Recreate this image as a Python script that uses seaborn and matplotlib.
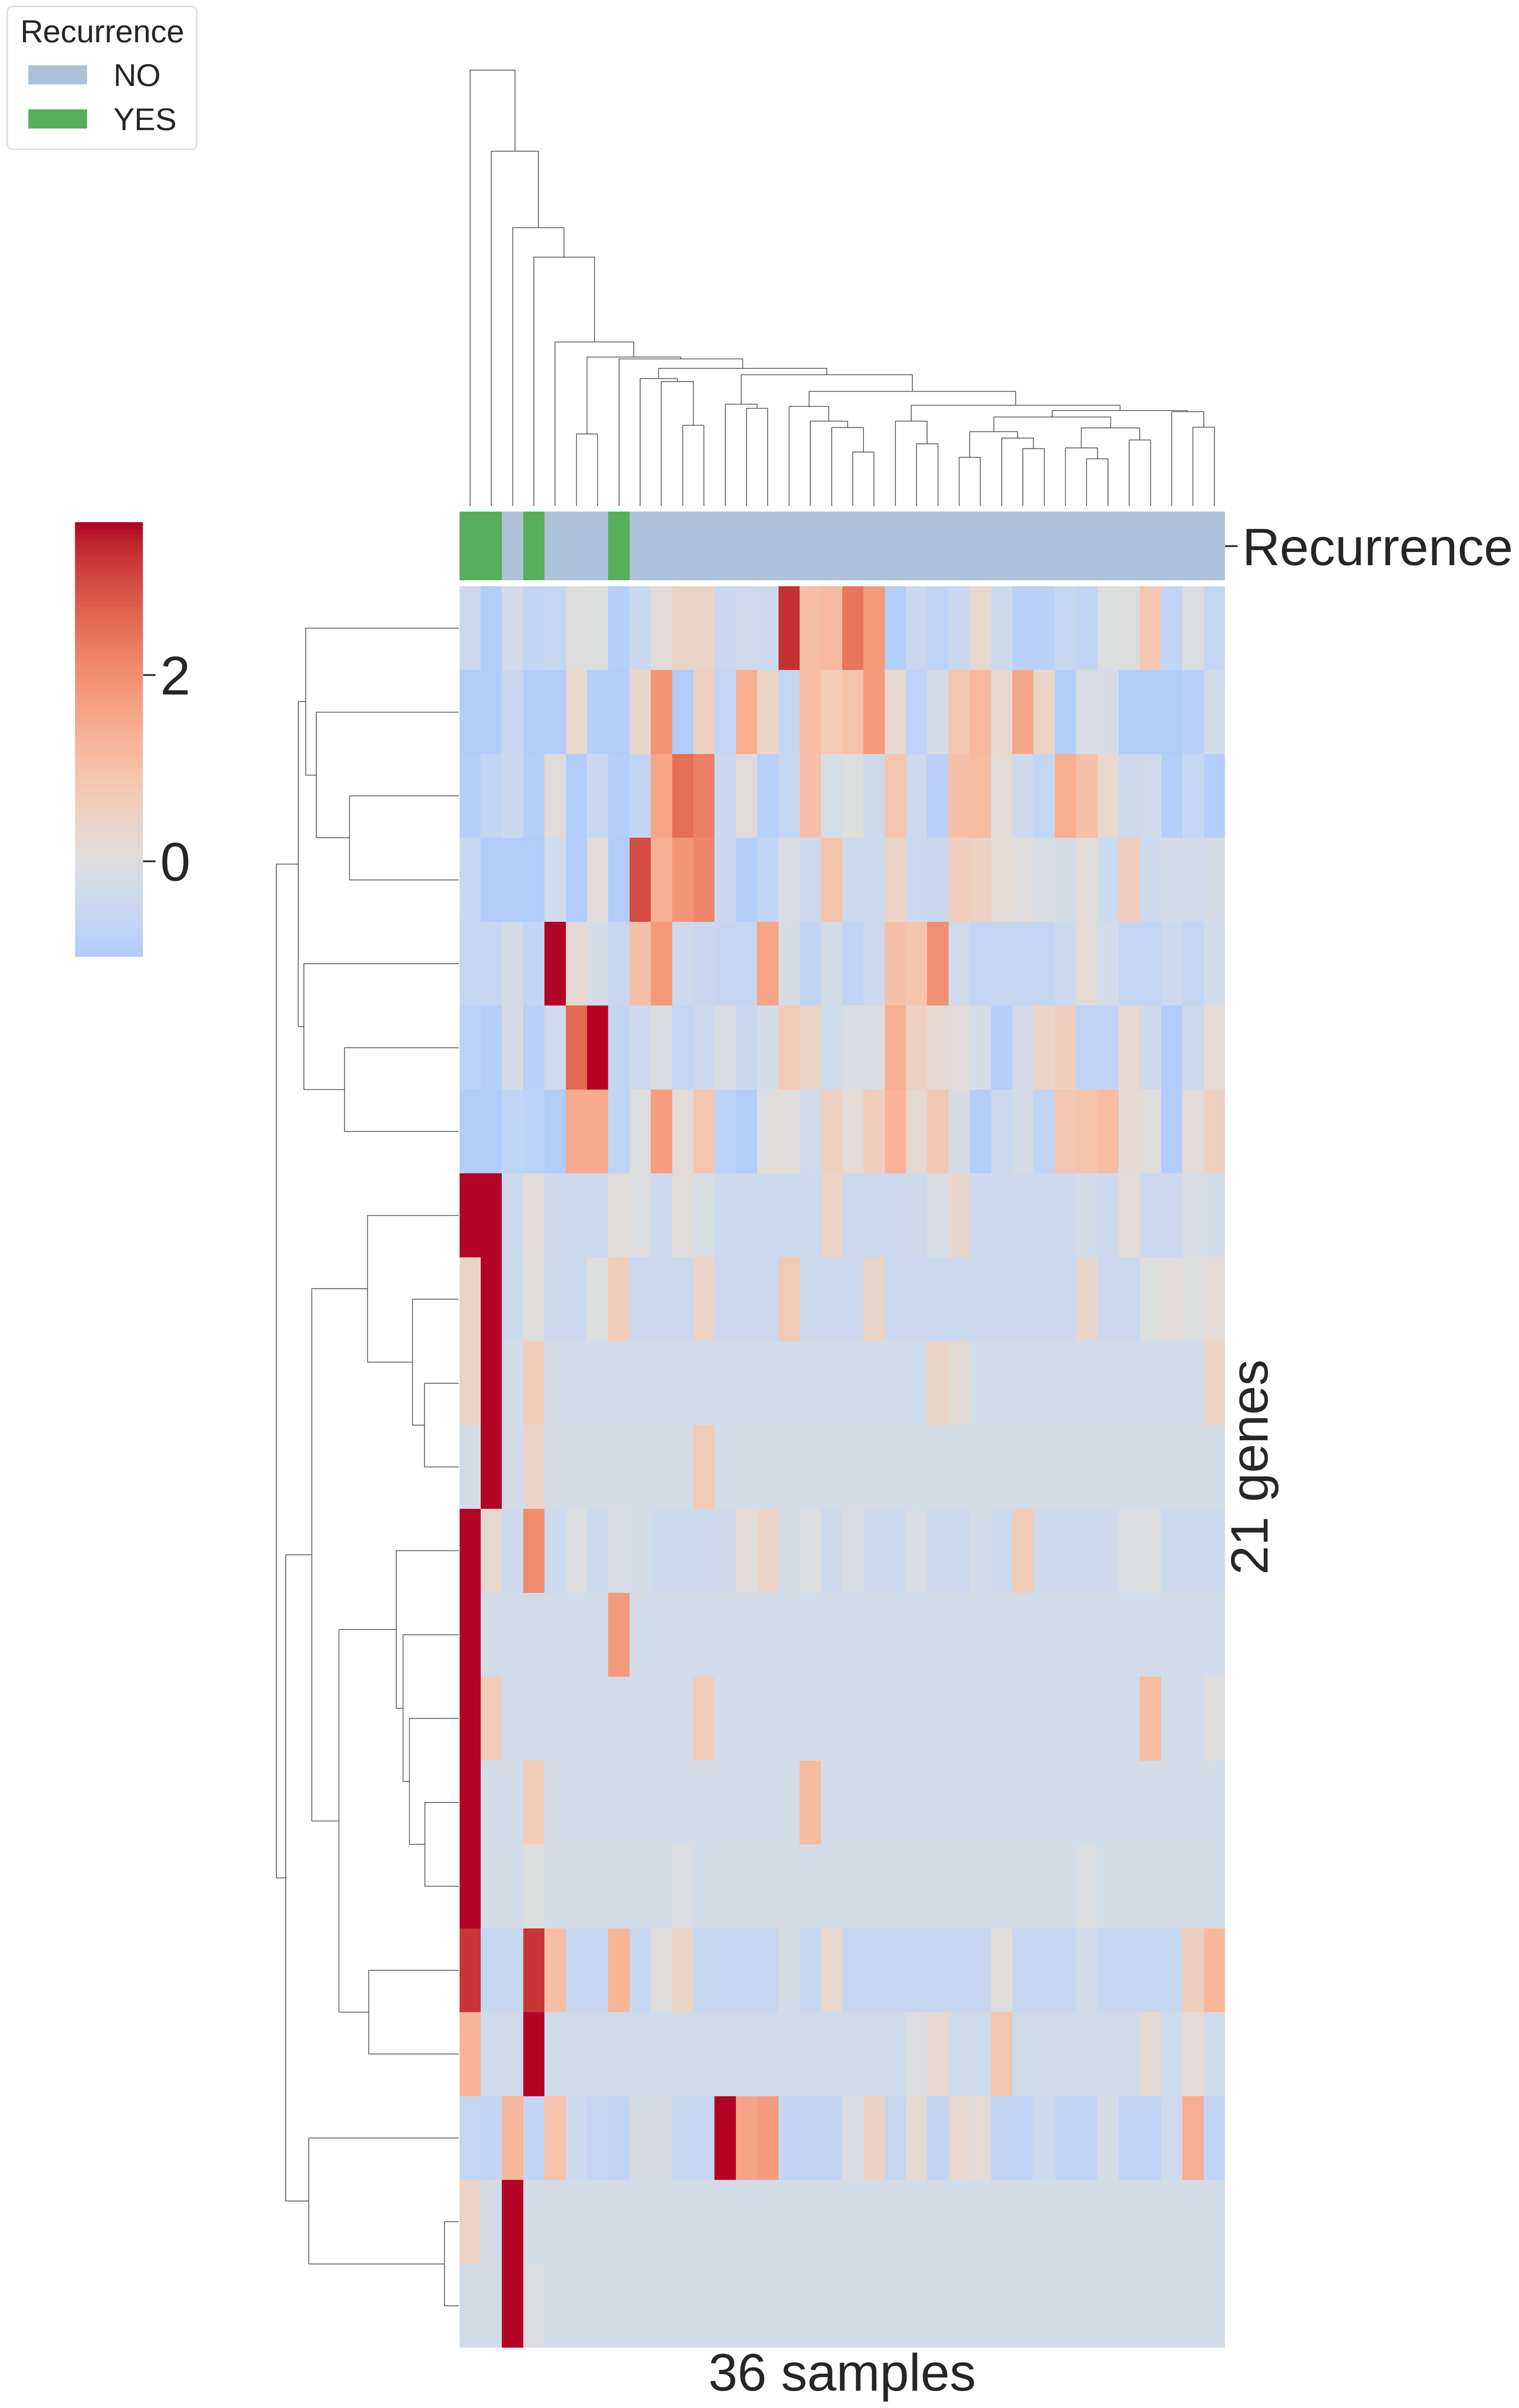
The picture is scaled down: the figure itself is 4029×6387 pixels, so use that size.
import matplotlib
matplotlib.use("Agg")
import matplotlib.pyplot as plt
import numpy as np
import seaborn as sns
from matplotlib.collections import LineCollection
from matplotlib.colors import ListedColormap
from matplotlib.patches import Patch

# heatmap rows, top to bottom, in clustered order
row_00 = [-.45, -1, -.3, -.65, -.55, .05, 0, -.95, -.5, .15, .4, .4, -.5, -.35, -.42, 3.3, 1.05, 1.15, 2.4, 1.8, -.95, -.5, -.75, -.5, .3, -.4, -.85, -.85, -.55, -.65, 0, .02, .8, -.65, -.05, -.6]
row_01 = [-1, -1, -.55, -1, -1, .3, -1, -1, .32, 1.9, -1, .55, -.6, 1.4, .42, -.6, 1.05, .75, .95, 1.8, .28, -.75, -.2, .85, 1.15, .3, 1.55, .45, -1, -.1, -.2, -1, -1, -1, -.85, -.3]
row_02 = [-.95, -.7, -.5, -.95, .07, -1, -.5, -.95, -.65, 1.6, 2.5, 2.25, -.5, .15, -.9, -.6, 1.0, -.18, 0, -.42, .85, -.4, -.85, 1.0, 1.1, .1, -.38, -.6, 1.4, 1.0, .3, -.4, -.35, -.95, -.6, -.98]
row_03 = [-.55, -1, -1, -1, -.3, -1, .1, -1, 2.95, 1.4, 1.9, 2.15, -.5, -.95, -.65, -.12, -.4, .92, -.4, -.4, .45, -.45, -.5, .62, .52, .17, .05, -.15, -.28, .1, -.4, .6, -.42, -.3, -.35, -.2]
row_04 = [-.6, -.55, -.25, -.65, 3.64, .25, -.28, -.58, 1.0, 1.8, -.38, -.5, -.58, -.58, 1.6, -.2, -.68, -.3, -.66, -.4, 1.0, .92, 2.0, -.35, -.6, -.55, -.6, -.6, -.4, .15, -.3, -.6, -.6, -.4, -.6, -.3]
row_05 = [-.8, -.95, -.2, -.85, -.35, 2.6, 3.64, -.7, -.42, -.1, -.6, -.4, -.15, -.5, -.3, .75, .42, -.35, -.1, -.1, 1.4, .58, .18, .13, -.25, -.95, -.35, .4, .6, -.75, -.65, .28, -.42, -1, -.4, .12]
row_06 = [-1, -1, -.72, -.8, -1, 1.48, 1.48, -.72, 0, 1.75, .13, .88, -.8, -1, .05, .03, -.35, .55, .12, .68, 1.3, .28, .8, -.2, -.98, -.45, -.25, -.68, .88, .95, 1.12, .2, .03, -1, .12, .55]
row_07 = [3.64, 3.64, -.38, .1, -.42, -.42, -.42, .14, -.05, -.42, .08, -.15, -.42, -.42, -.42, -.42, -.42, .45, -.45, -.45, -.45, -.38, -.15, .33, -.42, -.42, -.42, -.42, -.42, -.3, -.42, .13, -.45, -.45, -.15, -.25]
row_08 = [.45, 3.64, -.38, .06, -.45, -.45, -.02, .68, -.45, -.45, -.45, .4, -.45, -.45, -.45, .75, -.45, -.45, -.45, .45, -.45, -.45, -.45, -.45, -.45, -.45, -.45, -.45, -.45, .33, -.45, -.45, 0, .1, 0, .14]
row_09 = [.45, 3.64, -.3, .68, -.3, -.3, -.3, -.3, -.3, -.3, -.3, -.3, -.3, -.3, -.3, -.3, -.3, -.3, -.3, -.3, -.3, -.3, .42, .18, -.3, -.3, -.3, -.3, -.3, -.3, -.3, -.3, -.3, -.3, -.3, .45]
row_10 = [-.27, 3.64, -.3, .42, -.28, -.28, -.28, -.28, -.28, -.28, -.28, .7, -.28, -.28, -.28, -.28, -.28, -.28, -.28, -.28, -.28, -.28, -.28, -.28, -.28, -.28, -.28, -.28, -.28, -.28, -.28, -.28, -.28, -.28, -.28, -.28]
row_11 = [3.64, .28, -.42, 2.05, -.42, -.05, -.42, -.18, -.25, -.42, -.42, -.42, -.38, .13, .42, -.25, -.03, -.42, -.18, -.42, -.42, -.1, -.45, -.45, -.3, -.42, .7, -.42, -.42, -.42, -.42, -.08, -.04, -.42, -.42, -.42]
row_12 = [3.64, -.3, -.3, -.3, -.3, -.3, -.3, 1.8, -.3, -.3, -.3, -.3, -.3, -.3, -.3, -.3, -.3, -.3, -.3, -.3, -.3, -.3, -.3, -.3, -.3, -.3, -.3, -.3, -.3, -.3, -.3, -.3, -.3, -.3, -.3, -.3]
row_13 = [3.64, .65, -.3, -.3, -.3, -.3, -.3, -.3, -.3, -.3, -.3, .65, -.3, -.3, -.3, -.3, -.3, -.3, -.3, -.3, -.3, -.3, -.3, -.3, -.3, -.3, -.3, -.3, -.3, -.3, -.3, -.3, 1.12, -.3, -.32, .03]
row_14 = [3.64, -.3, -.3, .68, -.3, -.3, -.3, -.3, -.3, -.3, -.3, -.3, -.3, -.3, -.3, -.3, 1.15, -.3, -.3, -.3, -.3, -.3, -.3, -.3, -.3, -.3, -.3, -.3, -.3, -.3, -.3, -.3, -.3, -.3, -.3, -.3]
row_15 = [3.64, -.26, -.26, -.02, -.25, -.26, -.26, -.26, -.26, -.26, -.08, -.26, -.26, -.26, -.26, -.26, -.26, -.26, -.26, -.26, -.26, -.26, -.26, -.26, -.26, -.26, -.26, -.26, -.26, -.07, -.26, -.26, -.26, -.26, -.26, -.26]
row_16 = [3.25, -.55, -.55, 3.25, 1.05, -.55, -.55, 1.3, -.55, .05, .42, -.55, -.55, -.55, -.55, -.28, -.55, .3, -.55, -.55, -.55, -.55, -.55, -.55, -.55, .03, -.55, -.55, -.55, -.32, -.55, -.55, -.55, -.55, .62, 1.2]
row_17 = [1.33, -.35, -.35, 3.64, -.35, -.35, -.35, -.35, -.35, -.35, -.35, -.35, -.35, -.35, -.35, -.35, -.35, -.35, -.35, -.35, -.35, -.06, .28, -.35, -.35, .88, -.35, -.35, -.35, -.35, -.35, -.35, .2, -.35, .14, -.35]
row_18 = [-.6, -.65, 1.2, -.65, .97, -.4, -.58, -.63, -.22, -.22, -.55, -.55, 3.64, 1.62, 1.78, -.62, -.62, -.62, -.1, .52, -.58, .18, -.65, .28, .13, -.65, -.65, -.4, -.65, -.65, -.25, -.65, -.65, -.35, 1.4, -.65]
row_19 = [.45, -.27, 3.64, -.27, -.27, -.27, -.27, -.27, -.27, -.27, -.27, -.27, -.27, -.27, -.27, -.27, -.27, -.27, -.27, -.27, -.27, -.27, -.27, -.27, -.27, -.27, -.27, -.27, -.27, -.27, -.27, -.27, -.27, -.27, -.27, -.27]
row_20 = [-.27, -.27, 3.64, -.06, -.27, -.27, -.27, -.27, -.27, -.27, -.27, -.27, -.27, -.27, -.27, -.27, -.27, -.27, -.27, -.27, -.27, -.27, -.27, -.27, -.27, -.27, -.27, -.27, -.27, -.27, -.27, -.27, -.27, -.27, -.27, -.27]

# recurrence annotation per sample, 1 = YES
recurrence = [1, 1, 0, 1, 0, 0, 0, 1, 0, 0, 0, 0, 0, 0, 0, 0, 0, 0, 0, 0, 0, 0, 0, 0, 0, 0, 0, 0, 0, 0, 0, 0, 0, 0, 0, 0]
recurrence_names = ["NO", "YES"]
recurrence_colors = ["#adc2d9", "#56af5a"]

# linkage style merges: (left, right, height), ids past the leaves are earlier merges
col_merges = [
    (5, 6, 208), (10, 11, 233), (9, 37, 359), (8, 38, 368), (13, 14, 282),
    (12, 40, 294), (18, 19, 156), (17, 42, 226), (16, 43, 245), (15, 44, 288),
    (21, 22, 180), (20, 46, 245), (23, 24, 140), (26, 27, 165), (25, 49, 196),
    (48, 50, 215), (29, 30, 136), (28, 52, 168), (31, 32, 191), (53, 54, 225),
    (51, 55, 257), (34, 35, 228), (33, 57, 272), (56, 58, 275), (47, 59, 291),
    (45, 60, 331), (41, 61, 379), (39, 62, 398), (7, 63, 425), (36, 64, 430),
    (4, 65, 474), (3, 66, 719), (2, 67, 804), (1, 68, 1025), (0, 69, 1259),
]
row_merges = [
    (2, 3, 290), (1, 21, 378), (0, 22, 406), (5, 6, 303), (4, 24, 411),
    (23, 25, 426), (9, 10, 91), (8, 27, 123), (7, 28, 242), (14, 15, 90),
    (13, 30, 131), (12, 31, 148), (11, 32, 166), (16, 17, 239), (33, 34, 318),
    (29, 35, 390), (19, 20, 38), (18, 37, 398), (36, 38, 459), (26, 39, 484),
]

VMIN, VMAX = -1.03, 3.64
W, H = 4029, 6387


def box(fig, left, top, right, bottom):
    """axes from pixel edges of the final picture"""
    return fig.add_axes([left / W, 1 - bottom / H, (right - left) / W, (bottom - top) / H])


def tree_segments(merges, n_leaves):
    """U shapes of a dendrogram as (position, height) polylines"""
    pos = {i: i + 0.5 for i in range(n_leaves)}
    hgt = {i: 0.0 for i in range(n_leaves)}
    segs = []
    for k, (a, b, h) in enumerate(merges):
        segs.append([(pos[a], hgt[a]), (pos[a], h), (pos[b], h), (pos[b], hgt[b])])
        pos[n_leaves + k] = (pos[a] + pos[b]) / 2
        hgt[n_leaves + k] = h
    return segs


def main():
    sns.set_theme(style="white")
    plt.rcParams["font.family"] = ["Liberation Sans", "DejaVu Sans"]
    plt.rcParams["text.color"] = ".15"

    values = np.array([row_00, row_01, row_02, row_03, row_04, row_05, row_06,
                       row_07, row_08, row_09, row_10, row_11, row_12, row_13,
                       row_14, row_15, row_16, row_17, row_18, row_19, row_20])
    n_rows, n_cols = values.shape

    fig = plt.figure(figsize=(W / 300, H / 300), dpi=300)

    # main heatmap and colorbar
    ax = box(fig, 1218.5, 1555, 3249, 6227)
    cax = box(fig, 199, 1385, 379, 2538)
    sns.heatmap(values, ax=ax, cbar_ax=cax, cmap="coolwarm", center=0,
                vmin=VMIN, vmax=VMAX, xticklabels=False, yticklabels=False,
                cbar_kws={"ticks": [0, 2]})
    ax.yaxis.set_label_position("right")
    ax.set_xlabel("36 samples", fontsize=33.3, labelpad=3)
    ax.set_ylabel("21 genes", fontsize=33.3, labelpad=3)
    cax.tick_params(labelsize=34.5, length=8, width=1.1, pad=3, right=True)

    # annotation strip
    ann = box(fig, 1218.5, 1357, 3249, 1539)
    sns.heatmap(np.array([recurrence]), ax=ann, cmap=ListedColormap(recurrence_colors),
                vmin=0, vmax=1, cbar=False, xticklabels=False)
    ann.yaxis.tick_right()
    ann.set_yticks([0.5])
    ann.set_yticklabels(["Recurrence"], rotation=0, fontsize=33.4)
    ann.tick_params(axis="y", length=8, width=1.1, pad=3, right=True, left=False)

    # dendrograms
    col_top = max(m[2] for m in col_merges)
    dcol = box(fig, 1218.5, 128, 3249, 1342)
    dcol.add_collection(LineCollection(tree_segments(col_merges, n_cols), colors=".2", linewidths=.4))
    dcol.set_xlim(0, n_cols)
    dcol.set_ylim(0, col_top * 1.05)
    dcol.set_axis_off()

    row_top = max(m[2] for m in row_merges)
    drow = box(fig, 709, 1555, 1217, 6227)
    segs = [[(h, p) for p, h in s] for s in tree_segments(row_merges, n_rows)]
    drow.add_collection(LineCollection(segs, colors=".2", linewidths=.4))
    drow.set_xlim(row_top * 1.05, 0)
    drow.set_ylim(n_rows, 0)
    drow.set_axis_off()

    # legend
    handles = [Patch(facecolor=c, edgecolor="white", label=n)
               for c, n in zip(recurrence_colors, recurrence_names)]
    fig.legend(handles=handles, title="Recurrence", fontsize=20.2, title_fontsize=20.2,
               loc="upper left", bbox_to_anchor=(19 / W, 1 - 17 / H), borderaxespad=0,
               frameon=True, edgecolor=".85", handlelength=1.9, handleheight=.63,
               labelspacing=.46, borderpad=.4)

    fig.savefig("out.png", dpi=300)


if __name__ == "__main__":
    main()
